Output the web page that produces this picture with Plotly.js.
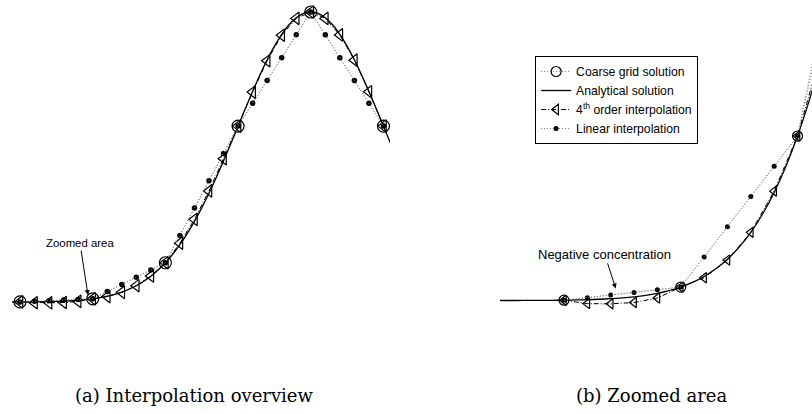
<!DOCTYPE html>
<html>
<head>
<meta charset="utf-8">
<script src="https://cdn.plot.ly/plotly-3.0.1.min.js"></script>
<style>html,body{margin:0;padding:0;background:#fff;}#chart{width:812px;height:414px;}</style>
</head>
<body>
<div id="chart"></div>
<script>
// Coarse grid solution (grid index, concentration)
const coarseX = [0, 1, 2, 3, 4, 5];
const coarseY = [0.0003, 0.0111, 0.1353, 0.6065, 1.0, 0.6065];

// Fine grid positions used by the interpolations
const fineX = [0, 0.2, 0.4, 0.6, 0.8, 1.0, 1.2, 1.4, 1.6, 1.8, 2.0, 2.2, 2.4, 2.6, 2.8,
               3.0, 3.2, 3.4, 3.6, 3.8, 4.0, 4.2, 4.4, 4.6, 4.8, 5.0];
// 4th order interpolation
const fourthY = [0.0003, -0.0025, -0.0027, -0.0016, 0.0021, 0.0111, 0.0188, 0.0333, 0.0561, 0.0900,
                 0.1353, 0.203, 0.285, 0.383, 0.494, 0.6065, 0.724, 0.832, 0.920, 0.978,
                 1.0, 0.978, 0.921, 0.834, 0.725, 0.6065];
// Linear interpolation
const linearY = [0.0003, 0.0024, 0.0046, 0.0067, 0.0089, 0.0111, 0.0359, 0.0607, 0.0856, 0.1104,
                 0.1353, 0.2296, 0.3238, 0.4181, 0.5123, 0.6065, 0.6852, 0.7639, 0.8426, 0.9213,
                 1.0, 0.9213, 0.8426, 0.7639, 0.6852, 0.6065];

// Analytical solution
const anaX = [-0.6, -0.5, -0.4, -0.3, -0.2, -0.1, 0.0, 0.1, 0.2, 0.3, 0.4, 0.5, 0.6, 0.7, 0.8, 0.9,
              1.0, 1.1, 1.2, 1.3, 1.4, 1.5, 1.6, 1.7, 1.8, 1.9, 2.0, 2.1, 2.2, 2.3, 2.4, 2.5,
              2.6, 2.7, 2.8, 2.9, 3.0, 3.1, 3.2, 3.3, 3.4, 3.5, 3.6, 3.7, 3.8, 3.9, 4.0,
              4.1, 4.2, 4.3, 4.4, 4.5, 4.6, 4.7, 4.8, 4.9, 5.0, 5.1, 5.2];
const anaY = [0.00003, 0.00004, 0.00006, 0.0001, 0.00015, 0.00022, 0.00034, 0.0005, 0.00073, 0.00107,
              0.00153, 0.00219, 0.00309, 0.00432, 0.00598, 0.00819, 0.01111, 0.01492, 0.01984, 0.02612,
              0.03405, 0.04394, 0.05613, 0.07100, 0.08892, 0.11025, 0.13534, 0.16447, 0.19790, 0.23575,
              0.27804, 0.32465, 0.37531, 0.42956, 0.48675, 0.54607, 0.60653, 0.66698, 0.72615, 0.78270,
              0.83527, 0.88250, 0.92312, 0.95600, 0.98020, 0.99501, 1.0, 0.99501, 0.98020, 0.95600,
              0.92312, 0.88250, 0.83527, 0.78270, 0.72615, 0.66698, 0.60653, 0.54607, 0.48675];

// Legend labels
const labels = ["Coarse grid solution", "Analytical solution", "4<sup>th</sup> order interpolation", "Linear interpolation"];

function panelTraces(xa, ya, sz, show) {
  return [
    {x: anaX, y: anaY, xaxis: xa, yaxis: ya, mode: "lines", name: labels[1], legendgroup: "ana",
     legendrank: 2, showlegend: show, line: {color: "#000", width: 1.3, shape: "spline", smoothing: 0.6},
     hoverinfo: "skip"},
    {x: fineX, y: linearY, xaxis: xa, yaxis: ya, mode: "lines+markers", name: labels[3], legendgroup: "lin",
     legendrank: 4, showlegend: show, cliponaxis: false,
     line: {color: "#7a7a7a", width: 1, dash: "1px,2px"},
     marker: {symbol: "circle", size: sz.dot, color: "#000"}},
    {x: fineX, y: fourthY, xaxis: xa, yaxis: ya, mode: "lines+markers", name: labels[2], legendgroup: "fourth",
     legendrank: 3, showlegend: show, cliponaxis: false,
     line: {color: "#000", width: 1, dash: "5px,2px,1px,2px"},
     marker: {symbol: "triangle-left-open", size: sz.tri, color: "#000", line: {width: 1.2, color: "#000"}}},
    {x: coarseX, y: coarseY, xaxis: xa, yaxis: ya, mode: "lines+markers", name: labels[0], legendgroup: "coarse",
     legendrank: 1, showlegend: show, cliponaxis: false,
     line: {color: "#7a7a7a", width: 1, dash: "1px,2px"},
     marker: {symbol: "circle-open", size: sz.circ, color: "#000", line: {width: 1.2, color: "#000"}}}
  ];
}

const data = [].concat(
  panelTraces("x", "y", {dot: 5.5, tri: 11, circ: 12}, false),
  panelTraces("x2", "y2", {dot: 5, tri: 9, circ: 10}, true)
);

const hidden = {visible: false, showgrid: false, zeroline: false, fixedrange: true};

const layout = {
  width: 812, height: 414,
  margin: {l: 0, r: 0, t: 0, b: 0},
  paper_bgcolor: "#fff", plot_bgcolor: "rgba(0,0,0,0)",
  font: {family: "Liberation Sans, Arial, sans-serif", color: "#000"},
  xaxis: Object.assign({domain: [0.01478, 0.4803], range: [-0.11, 5.09]}, hidden),
  yaxis: Object.assign({domain: [0.2355, 0.985], range: [-0.05, 1.02]}, hidden),
  xaxis2: Object.assign({domain: [0.61576, 1], range: [-0.548, 2.124], anchor: "y2"}, hidden),
  yaxis2: Object.assign({domain: [0.227, 1], range: [-0.016, 0.2472], anchor: "x2"}, hidden),
  showlegend: true,
  legend: {
    x: 0.659, y: 0.8647, xanchor: "left", yanchor: "top",
    bgcolor: "#fff", bordercolor: "#000", borderwidth: 1,
    font: {family: "Liberation Sans, Arial, sans-serif", size: 12.2, color: "#000"},
    itemwidth: 30, tracegroupgap: 0
  },
  annotations: [
    {xref: "x", yref: "y", x: 0.935, y: 0.024, ax: -8, ay: -52, text: "Zoomed area",
     showarrow: true, arrowhead: 2, arrowsize: 1, arrowwidth: 1, arrowcolor: "#000", standoff: 0,
     font: {size: 11.4, color: "#000"}},
    {xref: "x2", yref: "y2", x: 0.443, y: 0.010, ax: -11, ay: -34, text: "Negative concentration",
     showarrow: true, arrowhead: 2, arrowsize: 1, arrowwidth: 1, arrowcolor: "#000", standoff: 0,
     font: {size: 13, color: "#000"}},
    {xref: "paper", yref: "paper", x: 0.2395, y: 0.0435, xanchor: "center", yanchor: "middle",
     text: "(a) Interpolation overview", showarrow: false,
     font: {family: "DejaVu Serif, serif", size: 18, color: "#000"}},
    {xref: "paper", yref: "paper", x: 0.8023, y: 0.0435, xanchor: "center", yanchor: "middle",
     text: "(b) Zoomed area", showarrow: false,
     font: {family: "DejaVu Serif, serif", size: 18, color: "#000"}}
  ]
};

Plotly.newPlot("chart", data, layout, {displayModeBar: false, staticPlot: true});
</script>
</body>
</html>
